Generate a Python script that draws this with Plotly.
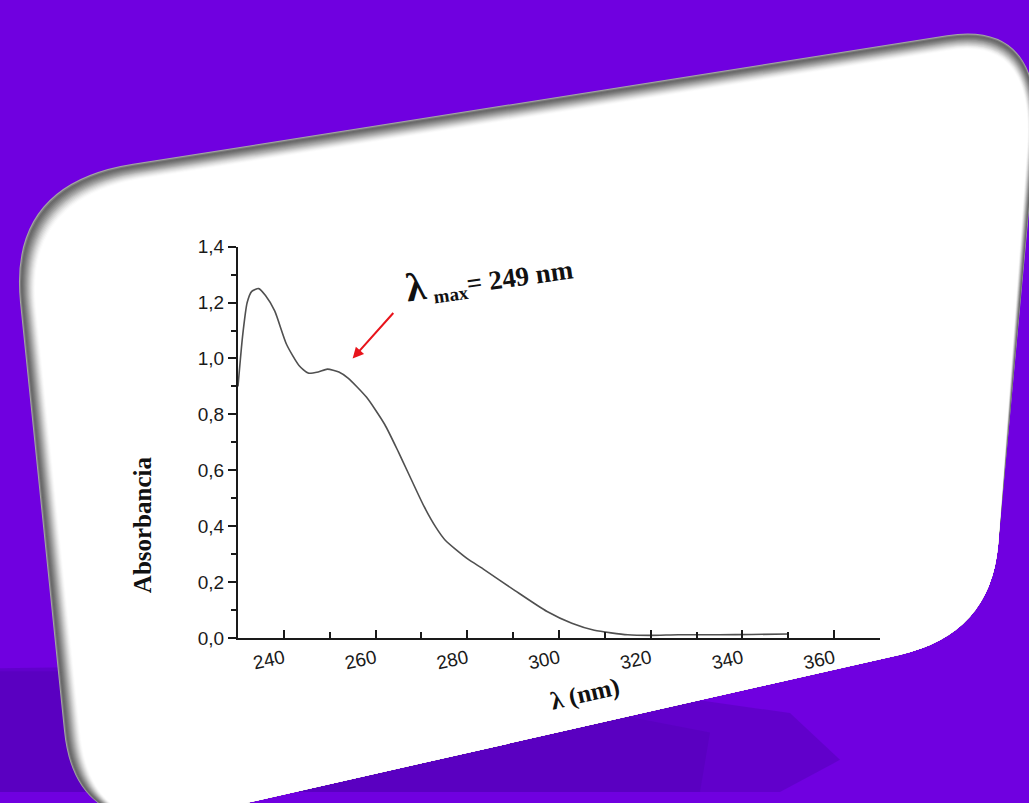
import plotly.graph_objects as go

W, H = 1029, 803

# ---- data (deskewed along its own axes) ----
wavelength_nm = [230, 231, 232, 233, 234.5, 236, 238, 240.6, 243.3, 245.3, 247.5, 249.5,
                 252, 254, 258, 262, 265, 267, 270.6, 273.2, 275.2, 280, 283.5, 290.4,
                 297.4, 302.8, 307.7, 315, 320, 326, 335, 342, 350]
absorbance = [0.90, 1.08, 1.20, 1.24, 1.25, 1.225, 1.17, 1.05, 0.975, 0.948, 0.952, 0.962,
              0.952, 0.930, 0.862, 0.764, 0.665, 0.595, 0.470, 0.395, 0.350, 0.284, 0.247, 0.170,
              0.095, 0.053, 0.028, 0.012, 0.010, 0.012, 0.012, 0.013, 0.015]

x_ticks = [240, 260, 280, 300, 320, 340, 360]
x_tick_labels = ["240", "260", "280", "300", "320", "340", "360"]
y_ticks = [0.0, 0.2, 0.4, 0.6, 0.8, 1.0, 1.2, 1.4]
y_tick_labels = ["0,0", "0,2", "0,4", "0,6", "0,8", "1,0", "1,2", "1,4"]

x_range = [230, 370]
y_range = [0, 1.4]
peak_label_nm = 249

# ---- layout helpers (pixel -> paper fraction) ----
def fx(px):
    return px / W

def fy(py):
    return 1 - py / H

def pt(p):
    return f"{fx(p[0]):.5f},{fy(p[1]):.5f}"

def polygon(pts):
    return "M " + pt(pts[0]) + " " + " ".join("L " + pt(p) for p in pts[1:]) + " Z"

def card_path(i):
    return (
        f"M {pt((20 + i, 300 + 0.3 * i))} "
        f"Q {pt((8 + 1.1 * i, 178 + 1.1 * i))} {pt((133 + 0.3 * i, 158 + i))} "
        f"L {pt((947, 26 + i))} "
        f"Q {pt((1047 - 0.8 * i, 10 + i))} {pt((1035 - 0.5 * i, 140))} "
        f"L {pt((998, 550))} "
        f"Q {pt((990, 641))} {pt((900, 662))} "
        f"L {pt((200, 825))} "
        f"Q {pt((75 + i, 854))} {pt((64 + i, 740))} Z"
    )

shapes = []
# dark purple floor shadow
for pts, col in [
    ([(0, 676), (70, 675), (640, 700), (790, 722), (840, 770), (780, 803), (0, 803)], "rgba(60,0,150,0.28)"),
    ([(0, 679), (60, 679), (560, 712), (710, 742), (700, 803), (0, 803)], "rgba(60,0,150,0.18)"),
]:
    shapes.append(dict(type="path", xref="paper", yref="paper", layer="below",
                       path=polygon(pts), fillcolor=col, line=dict(width=0)))
# card bevel layers (gray rim fading to white)
bevel = [(0, 165), (1, 125), (2, 105), (3, 110), (4, 120), (5, 132), (6, 145), (7, 158),
         (8, 172), (9, 186), (10, 200), (11, 213), (12, 225), (13, 236), (14, 245),
         (15, 252), (16, 255)]
for inset, g in bevel:
    shapes.append(dict(type="path", xref="paper", yref="paper", layer="below",
                       path=card_path(inset), fillcolor=f"rgb({g},{g},{g})", line=dict(width=0)))

fig = go.Figure()
fig.add_trace(go.Scatter(
    x=wavelength_nm, y=absorbance, mode="lines",
    line=dict(color="#505050", width=1.6, shape="spline", smoothing=0.6),
    hoverinfo="skip", showlegend=False,
))

tick_font = dict(family="Liberation Sans, Arial, sans-serif", size=19, color="#1a1a1a")
serif_bold = "Liberation Serif, Times New Roman, serif"

annotations = [
    dict(xref="paper", yref="paper", x=fx(489), y=fy(274), xanchor="center", yanchor="middle",
         text=f'<b><span style="font-size:40px">λ</span> <sub>max</sub>= {peak_label_nm} nm</b>',
         textangle=-8, showarrow=False,
         font=dict(family=serif_bold, size=27, color="#111111")),
    dict(xref="x", yref="y", x=255, y=1.0, ax=42, ay=-47, text="", showarrow=True,
         arrowhead=2, arrowsize=1.1, arrowwidth=2, arrowcolor="#e8141b"),
    dict(xref="paper", yref="paper", x=fx(142), y=fy(529), xanchor="center", yanchor="middle",
         text="<b>Absorbancia</b>", textangle=-90, showarrow=False,
         font=dict(family=serif_bold, size=25, color="#111111")),
    dict(xref="paper", yref="paper", x=fx(585), y=fy(702), xanchor="center", yanchor="middle",
         text="<b>λ (nm)</b>", textangle=-13, showarrow=False,
         font=dict(family=serif_bold, size=25, color="#111111")),
]

fig.update_layout(
    width=W, height=H, autosize=False,
    margin=dict(l=0, r=0, t=0, b=0, pad=0),
    paper_bgcolor="#7000e0",
    plot_bgcolor="rgba(0,0,0,0)",
    shapes=shapes,
    annotations=annotations,
    showlegend=False,
    xaxis=dict(
        domain=[fx(238), fx(880)], range=x_range,
        tickmode="array", tickvals=x_ticks, ticktext=x_tick_labels,
        ticks="inside", ticklen=8, tickwidth=1.6, tickcolor="#1a1a1a",
        minor=dict(dtick=10, tick0=230, ticks="inside", ticklen=6, tickwidth=1.6, tickcolor="#1a1a1a"),
        tickangle=-12, tickfont=tick_font,
        showline=True, linecolor="#1a1a1a", linewidth=2.2,
        showgrid=False, zeroline=False, fixedrange=True,
    ),
    yaxis=dict(
        domain=[fy(645), fy(243)], range=y_range,
        tickmode="array", tickvals=y_ticks, ticktext=y_tick_labels,
        ticks="outside", ticklen=8, tickwidth=1.6, tickcolor="#1a1a1a",
        minor=dict(dtick=0.1, tick0=0, ticks="outside", ticklen=5, tickwidth=1.6, tickcolor="#1a1a1a"),
        tickfont=tick_font,
        showline=True, linecolor="#1a1a1a", linewidth=2.2,
        showgrid=False, zeroline=False, fixedrange=True,
    ),
)

fig.write_html("out.html", config={"displayModeBar": False})
